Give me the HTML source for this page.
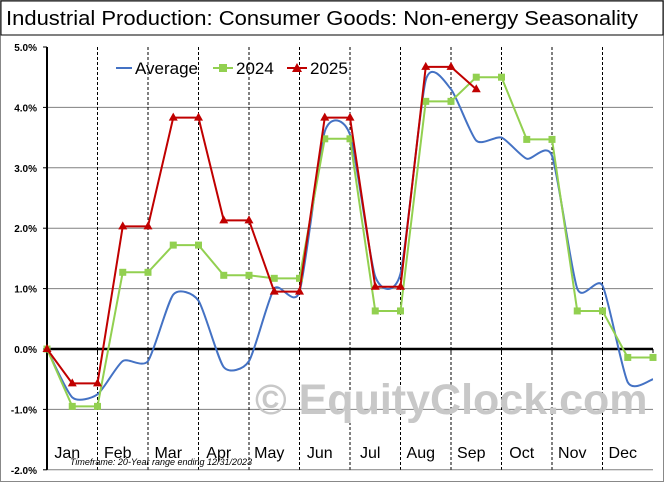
<!DOCTYPE html>
<html><head><meta charset="utf-8"><style>
body{margin:0;background:#fff}
svg{display:block;font-family:"Liberation Sans",sans-serif}
</style></head><body>
<svg id="c" width="664" height="482" viewBox="0 0 664 482">
<rect x="0.5" y="0.5" width="663" height="481" fill="#fff" stroke="#888"/>
<rect x="1" y="1" width="662" height="34" fill="#fff" stroke="#000" stroke-width="1"/>
<text x="6" y="25" font-size="20" textLength="632" lengthAdjust="spacingAndGlyphs" fill="#000">Industrial Production: Consumer Goods: Non-energy Seasonality</text>
<g id="grid"></g>
<text x="255" y="414" font-size="43" font-weight="bold" fill="#c8c8c8">© EquityClock.com</text>
<g id="series"></g>
<g>
<line x1="116" y1="68" x2="132" y2="68" stroke="#4472c4" stroke-width="2"/>
<text x="135" y="74" font-size="17">Average</text>
<line x1="213" y1="68" x2="233" y2="68" stroke="#92d050" stroke-width="2"/>
<rect x="219" y="64" width="8" height="8" fill="#92d050"/>
<text x="236" y="74" font-size="17">2024</text>
<line x1="287" y1="68" x2="307" y2="68" stroke="#c00000" stroke-width="2"/>
<polygon points="297,63 302,72 292,72" fill="#c00000"/>
<text x="310" y="74" font-size="17">2025</text>
</g>
<text x="70" y="465" font-size="9" font-style="italic" fill="#000">Timeframe: 20-Year range ending 12/31/2023</text>
</svg>
<script>
const months=["Jan","Feb","Mar","Apr","May","Jun","Jul","Aug","Sep","Oct","Nov","Dec"];
const yTicks=[5,4,3,2,1,0,-1,-2];
const avg=[0,-0.8,-0.75,-0.2,-0.2,0.9,0.8,-0.3,-0.2,1.0,0.95,3.6,3.55,1.2,1.25,4.45,4.3,3.45,3.5,3.15,3.2,1.0,1.05,-0.55,-0.5];
const y2024=[0,-0.95,-0.95,1.27,1.27,1.72,1.72,1.22,1.22,1.17,1.17,3.48,3.48,0.63,0.63,4.1,4.1,4.5,4.5,3.47,3.47,0.63,0.63,-0.14,-0.14];
const y2025=[0,-0.57,-0.57,2.03,2.03,3.83,3.83,2.13,2.13,0.95,0.95,3.83,3.83,1.03,1.03,4.67,4.67,4.3];
const X0=47,X1=653,Y5=47,Y0=349;
const xs=i=>X0+i*(X1-X0)/24;
const ys=v=>Y0-v*(Y0-Y5)/5;
const NS="http://www.w3.org/2000/svg";
function el(t,a,p){const e=document.createElementNS(NS,t);for(const k in a)e.setAttribute(k,a[k]);p.appendChild(e);return e;}
const g=document.getElementById('grid'),s=document.getElementById('series');
yTicks.forEach(v=>{
 if(v!==0&&v!==5){const l=el('line',{x1:X0,x2:X1,y1:ys(v),y2:ys(v),stroke:'#808080','stroke-width':1},g);
 
 }
 const t=el('text',{x:X0-10,y:ys(v)+4,'font-size':10,'font-weight':'bold','text-anchor':'end'},g);t.textContent=v.toFixed(1)+'%';
 
 
 el('line',{x1:X0-4,x2:X0,y1:ys(v),y2:ys(v),stroke:'#000'},g);
});
months.forEach((m,i)=>{
 const xb=xs(2*i+2);
 if(i<11){const l=el('line',{x1:xb,x2:xb,y1:ys(5),y2:ys(-2),stroke:'#000','stroke-dasharray':'3,2','stroke-width':1},g);
 
 }
 el('line',{x1:xb,x2:xb,y1:Y0,y2:Y0+4,stroke:'#000'},g);
 const t=el('text',{x:xs(2*i+1)-5,y:458,'font-size':16,'text-anchor':'middle'},g);t.textContent=m;
 
 
});
const ya=el('line',{x1:X0,x2:X0,y1:ys(5),y2:ys(-2),stroke:'#000','stroke-width':2},g);


const xa=el('line',{x1:X0,x2:X1,y1:Y0,y2:Y0,stroke:'#000','stroke-width':2.5},g);


const P=avg.map((v,i)=>[xs(i),ys(v)]);
let d='M'+P[0][0]+','+P[0][1];
const k=9;
for(let i=0;i<P.length-1;i++){const p0=P[Math.max(i-1,0)],p1=P[i],p2=P[i+1],p3=P[Math.min(i+2,P.length-1)];
 d+=` C${p1[0]+(p2[0]-p0[0])/k},${p1[1]+(p2[1]-p0[1])/k} ${p2[0]-(p3[0]-p1[0])/k},${p2[1]-(p3[1]-p1[1])/k} ${p2[0]},${p2[1]}`;}
const a=el('path',{d:d,fill:'none',stroke:'#4472c4','stroke-width':2},s);


const l4=el('polyline',{points:y2024.map((v,i)=>xs(i)+','+ys(v)).join(' '),fill:'none',stroke:'#92d050','stroke-width':2},s);


y2024.forEach((v,i)=>{const r=el('rect',{x:xs(i)-3.5,y:ys(v)-3.5,width:7,height:7,fill:'#92d050'},s);
 
 });
const l5=el('polyline',{points:y2025.map((v,i)=>xs(i)+','+ys(v)).join(' '),fill:'none',stroke:'#c00000','stroke-width':2},s);


y2025.forEach((v,i)=>{const x=xs(i),y=ys(v);const p=el('polygon',{points:`${x},${y-5} ${x+4.5},${y+3} ${x-4.5},${y+3}`,fill:'#c00000'},s);
 
 });
</script>
</body></html>
